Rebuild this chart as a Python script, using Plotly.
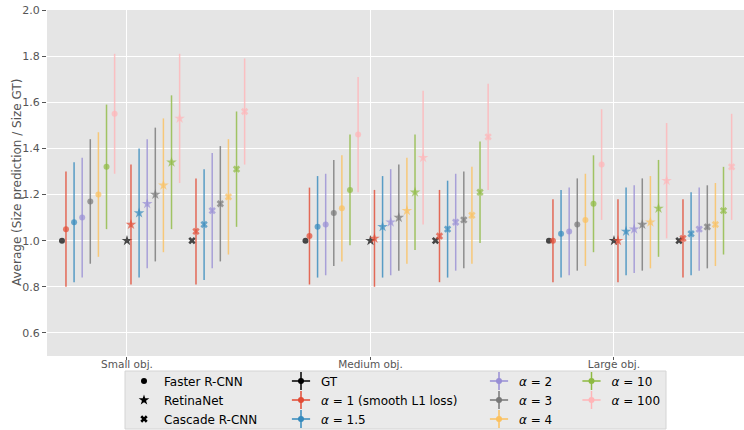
import plotly.graph_objects as go

# ---------------- data ----------------
categories = ["Small obj.", "Medium obj.", "Large obj."]
detectors = ["Faster R-CNN", "RetinaNet", "Cascade R-CNN"]
series_names = ["GT", "<i>α</i> = 1 (smooth L1 loss)", "<i>α</i> = 1.5", "<i>α</i> = 2",
                "<i>α</i> = 3", "<i>α</i> = 4", "<i>α</i> = 10", "<i>α</i> = 100"]
series_colors = ["#000000", "#E24A33", "#348ABD", "#988ED5", "#777777",
                 "#FBC15E", "#8EBA42", "#FFB5B8"]
detector_symbols = ["circle", "star", "x"]

# order of the 9 values: Small(Faster, RetinaNet, Cascade), Medium(...), Large(...)
gt_mean = [1.00, 1.00, 1.00, 1.00, 1.00, 1.00, 1.00, 1.00, 1.00]

a1_mean = [1.05, 1.07, 1.04, 1.02, 1.01, 1.02, 1.00, 1.00, 1.01]
a1_hi = [1.30, 1.33, 1.27, 1.23, 1.22, 1.22, 1.18, 1.18, 1.18]
a1_lo = [0.80, 0.81, 0.81, 0.81, 0.80, 0.82, 0.82, 0.82, 0.84]

a15_mean = [1.08, 1.12, 1.07, 1.06, 1.06, 1.05, 1.03, 1.04, 1.03]
a15_hi = [1.34, 1.40, 1.31, 1.28, 1.28, 1.26, 1.22, 1.23, 1.21]
a15_lo = [0.82, 0.84, 0.83, 0.84, 0.84, 0.84, 0.84, 0.85, 0.85]

a2_mean = [1.10, 1.16, 1.13, 1.07, 1.08, 1.08, 1.04, 1.05, 1.05]
a2_hi = [1.36, 1.44, 1.38, 1.29, 1.31, 1.29, 1.23, 1.24, 1.23]
a2_lo = [0.84, 0.88, 0.88, 0.85, 0.85, 0.87, 0.85, 0.86, 0.87]

a3_mean = [1.17, 1.20, 1.16, 1.12, 1.10, 1.09, 1.07, 1.07, 1.06]
a3_hi = [1.44, 1.49, 1.41, 1.35, 1.33, 1.30, 1.27, 1.27, 1.24]
a3_lo = [0.90, 0.91, 0.91, 0.89, 0.87, 0.88, 0.87, 0.87, 0.88]

a4_mean = [1.20, 1.24, 1.19, 1.14, 1.13, 1.11, 1.09, 1.08, 1.07]
a4_hi = [1.47, 1.53, 1.44, 1.37, 1.36, 1.32, 1.29, 1.28, 1.25]
a4_lo = [0.93, 0.95, 0.94, 0.91, 0.90, 0.90, 0.89, 0.88, 0.89]

a10_mean = [1.32, 1.34, 1.31, 1.22, 1.21, 1.21, 1.16, 1.14, 1.13]
a10_hi = [1.59, 1.63, 1.56, 1.46, 1.46, 1.43, 1.37, 1.35, 1.32]
a10_lo = [1.05, 1.05, 1.06, 0.98, 0.96, 0.99, 0.95, 0.93, 0.94]

a100_mean = [1.55, 1.53, 1.56, 1.46, 1.36, 1.45, 1.33, 1.26, 1.32]
a100_hi = [1.81, 1.81, 1.79, 1.71, 1.65, 1.68, 1.57, 1.51, 1.55]
a100_lo = [1.29, 1.25, 1.33, 1.21, 1.07, 1.22, 1.09, 1.01, 1.09]

y_ticks = [0.6, 0.8, 1.0, 1.2, 1.4, 1.6, 1.8, 2.0]

# ---------------- layout helpers ----------------
FONT = "DejaVu Sans"
det_offset = [-0.267, 0.0, 0.267]
series_offset = [0.0] + [0.0164 + 0.0333 * j for j in range(7)]

means = [gt_mean, a1_mean, a15_mean, a2_mean, a3_mean, a4_mean, a10_mean, a100_mean]
his = [None, a1_hi, a15_hi, a2_hi, a3_hi, a4_hi, a10_hi, a100_hi]
los = [None, a1_lo, a15_lo, a2_lo, a3_lo, a4_lo, a10_lo, a100_lo]


def rgba(hexc, a):
    h = hexc.lstrip("#")
    return "rgba(%d,%d,%d,%s)" % (int(h[0:2], 16), int(h[2:4], 16), int(h[4:6], 16), a)


fig = go.Figure()

for s in range(len(series_names)):
    xs, syms = [], []
    for c in range(len(categories)):
        for d in range(len(detectors)):
            xs.append(c + det_offset[d] + series_offset[s])
            syms.append(detector_symbols[d])
    sizes = [6 if sy == "circle" else (8 if sy == "star" else 6.5) for sy in syms]
    kw = {}
    if his[s] is not None:
        kw["error_y"] = dict(
            type="data", symmetric=False,
            array=[h - m for h, m in zip(his[s], means[s])],
            arrayminus=[m - l for m, l in zip(means[s], los[s])],
            color=rgba(series_colors[s], 0.8), thickness=1.5, width=0)
    fig.add_trace(go.Scatter(
        x=xs, y=means[s], mode="markers",
        marker=dict(color=series_colors[s], symbol=syms, size=sizes, line=dict(width=0)),
        showlegend=False, hoverinfo="skip", **kw))

# ---------------- legends ----------------
# column 1: detector markers
for d in range(len(detectors)):
    fig.add_trace(go.Scatter(
        x=[None], y=[None], mode="markers", name=detectors[d], legend="legend",
        marker=dict(color="black", symbol=detector_symbols[d],
                    size=6 if d == 0 else (8 if d == 1 else 6.5))))

columns = [[0, 1, 2], [3, 4, 5], [6, 7]]
for ci, col in enumerate(columns):
    lg_cross = "legend%d" % (ci + 2)
    lg_dot = "legend%d" % (ci + 5)
    for s in col:
        fig.add_trace(go.Scatter(
            x=[None], y=[None], mode="markers", name=series_names[s], legend=lg_cross,
            marker=dict(symbol="cross-thin", size=13, color=series_colors[s],
                        line=dict(color=series_colors[s], width=1.5))))
        fig.add_trace(go.Scatter(
            x=[None], y=[None], mode="markers", name=series_names[s], legend=lg_dot,
            marker=dict(symbol="circle", size=6, color=series_colors[s])))

L, R, T, B = 47, 0, 10, 74
W, H = 744, 430
pw, ph = W - L - R, H - T - B


def px_x(px):
    return (px - L) / pw


def px_y(py):
    return (H - B - py) / ph


legend_top = px_y(366.5)
col_x = [px_x(124), px_x(281), px_x(479), px_x(571.5)]

base_legend = dict(yanchor="top", xanchor="left", bgcolor="rgba(0,0,0,0)",
                   borderwidth=0, tracegroupgap=0, orientation="v",
                   font=dict(family=FONT, size=12, color="black"))
legends = {}
legends["legend"] = dict(base_legend, x=col_x[0], y=legend_top)
for ci in range(3):
    legends["legend%d" % (ci + 2)] = dict(base_legend, x=col_x[ci + 1], y=legend_top)
    legends["legend%d" % (ci + 5)] = dict(base_legend, x=col_x[ci + 1], y=legend_top,
                                          font=dict(family=FONT, size=12, color="rgba(0,0,0,0)"))

fig.update_layout(
    width=W, height=H,
    margin=dict(l=L, r=R, t=T, b=B, autoexpand=False),
    paper_bgcolor="white", plot_bgcolor="#E5E5E5",
    font=dict(family=FONT, color="#555555"),
    xaxis=dict(range=[-0.3285, 2.534], tickvals=[0, 1, 2], ticktext=categories,
               showgrid=True, gridcolor="white", gridwidth=1.2, zeroline=False,
               ticks="outside", ticklen=3, tickcolor="#555555", tickwidth=1,
               ticklabelstandoff=-5,
               tickfont=dict(family=FONT, size=10.5, color="#555555")),
    yaxis=dict(range=[0.5, 2.0], tickvals=y_ticks, ticktext=["%.1f" % v for v in y_ticks],
               showgrid=True, gridcolor="white", gridwidth=1.2, zeroline=False,
               ticks="outside", ticklen=4, tickcolor="#555555", tickwidth=1,
               tickfont=dict(family=FONT, size=11, color="#555555")),
    annotations=[dict(text="Average (Size prediction / Size GT)", xref="paper", yref="paper",
                      x=px_x(17), y=0.5, xanchor="center", yanchor="middle", textangle=-90,
                      showarrow=False, font=dict(family=FONT, size=12, color="#555555"))],
    shapes=[dict(type="rect", xref="paper", yref="paper",
                 x0=px_x(125), x1=px_x(666), y0=px_y(371), y1=px_y(429),
                 fillcolor="#EAEAEA", line=dict(color="#D4D4D4", width=1), layer="above")],
    **legends,
)

fig.write_html("out.html")
